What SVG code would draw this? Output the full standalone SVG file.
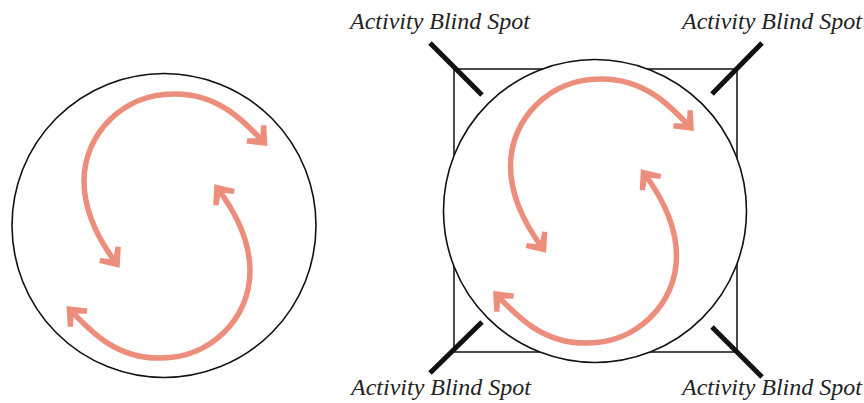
<svg xmlns="http://www.w3.org/2000/svg" width="864" height="403" viewBox="0 0 864 403">
  <style>
    .ring { fill: none; stroke: #111; stroke-width: 1.6; }
    .ringw { fill: #fff; stroke: #111; stroke-width: 1.6; }
    .box { fill: none; stroke: #111; stroke-width: 1.5; }
    .spot { stroke: #111; stroke-width: 5; stroke-linecap: butt; }
    .flow { fill: none; stroke: #EC8E7B; stroke-width: 5.5; marker-start: url(#ah); marker-end: url(#ah); }
    .lbl { font-family: "Liberation Serif", "Times New Roman", serif; font-style: italic; font-size: 24px; fill: #222; }
  </style>
  <defs>
    <marker id="ah" markerUnits="userSpaceOnUse" markerWidth="40" markerHeight="40" viewBox="-20 -20 40 40" refX="0" refY="0" orient="auto-start-reverse">
      <path d="M5,0 L-11,-13.5 L-14.5,-9.5 L-5.5,0 L-14.5,9.5 L-11,13.5 Z" fill="#EC8E7B"/>
    </marker>
    <path id="swirl" class="flow" d="M -50.4,37.8 C -68.4,13.8 -83,-15 -83,-45 C -83,-93 -43,-132 6,-132 C 50,-133 76,-106 97,-83.6"/>
  </defs>

  <g id="left-circle">
    <circle class="ring" cx="164" cy="225.5" r="152"/>
  </g>

  <g id="right-frame">
    <rect class="box" x="454" y="69" width="283" height="283"/>
    <circle class="ringw" cx="595" cy="211" r="151.5"/>
  </g>

  <g id="blind-spot-tl">
    <line class="spot" x1="430" y1="43" x2="482" y2="95"/>
    <text class="lbl" x="350" y="29">Activity Blind Spot</text>
  </g>
  <g id="blind-spot-tr">
    <line class="spot" x1="762" y1="43" x2="712" y2="94"/>
    <text class="lbl" x="682" y="29">Activity Blind Spot</text>
  </g>
  <g id="blind-spot-bl">
    <line class="spot" x1="482" y1="322" x2="430" y2="373"/>
    <text class="lbl" x="351" y="395">Activity Blind Spot</text>
  </g>
  <g id="blind-spot-br">
    <line class="spot" x1="712" y1="327" x2="762" y2="377"/>
    <text class="lbl" x="682" y="395">Activity Blind Spot</text>
  </g>

  <g id="connectors">
    <g transform="translate(167,226)">
      <use href="#swirl"/>
      <use href="#swirl" transform="rotate(180)"/>
    </g>
    <g transform="translate(593.5,211)">
      <use href="#swirl"/>
      <use href="#swirl" transform="rotate(180)"/>
    </g>
  </g>
</svg>
